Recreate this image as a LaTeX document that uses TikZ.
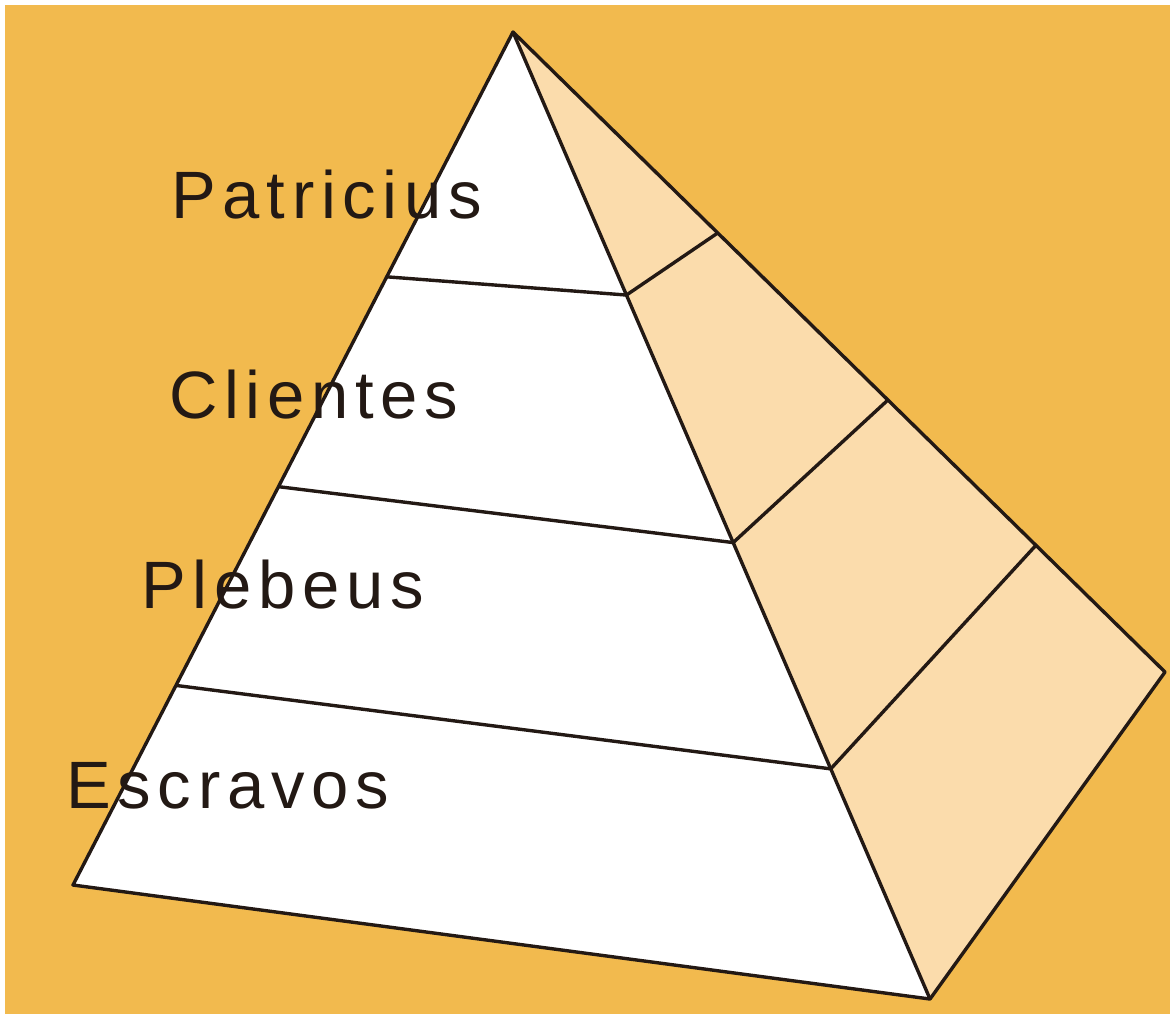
\documentclass[tikz,border=0pt]{standalone}
\usepackage{fontspec}
\newfontfamily\lblfont{Liberation Sans}[LetterSpace=10]
\usetikzlibrary{calc}

\definecolor{bgorange}{RGB}{242,186,78}
\definecolor{sideface}{RGB}{251,220,172}
\definecolor{inkdark}{RGB}{35,25,20}

\begin{document}
\begin{tikzpicture}[
  x=0.5pt, y=-0.5pt,
  edge/.style={draw=inkdark, line width=1.7pt, line join=round},
  lbl/.style={anchor=base west, inner sep=0pt, text=inkdark, font=\lblfont\fontsize{33.5}{40}\selectfont}
]

% Background
\fill[white] (0,0) rectangle (1170,1014);
\fill[bgorange] (5,5) rectangle (1170,1014);

% Corners of the pyramid
\coordinate (top) at (513,32);
\coordinate (bl) at (73,885);
\coordinate (bf) at (930,999);
\coordinate (rc) at (1165,672);

% Faces
\fill[white] (top) -- (bl) -- (bf) -- cycle;
\fill[sideface] (top) -- (bf) -- (rc) -- cycle;

% Labels
\node[lbl] (patr) at (171,218) {Patricius};
\node[lbl] (clie) at (169,418) {Clientes};
\node[lbl] (pleb) at (141,608) {Plebeus};
\node[lbl] (escr) at (66,808) {Escravos};

% Bands
\foreach \l/\f/\r in {0.287/0.272/0.314, 0.533/0.528/0.575, 0.766/0.762/0.802} {
    \draw[edge] ($(top)!\l!(bl)$) -- ($(top)!\f!(bf)$) -- ($(top)!\r!(rc)$);
}

% Outline
\draw[edge] (top) -- (bl) -- (bf) -- (rc) -- cycle;
\draw[edge] (top) -- (bf);

\end{tikzpicture}
\end{document}
